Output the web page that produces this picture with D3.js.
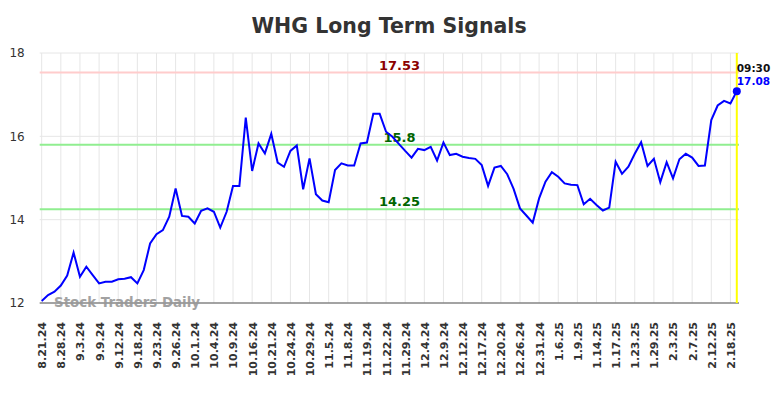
<!DOCTYPE html>
<html lang="en">
<head>
<meta charset="UTF-8">
<title>WHG Long Term Signals</title>
<script src="https://d3js.org/d3.v7.min.js"></script>
<style>
  body, html { margin: 0; padding: 0; background: #fff; }
  text { font-family: "DejaVu Sans", sans-serif; }
</style>
</head>
<body>
<div id="chart"></div>
<script>
// closing prices, one per session
const prices = [
  12.05, 12.19, 12.27, 12.42, 12.66, 13.21, 12.63, 12.87, 12.67, 12.47,
  12.51, 12.51, 12.57, 12.58, 12.62, 12.47, 12.79, 13.43, 13.65, 13.75,
  14.07, 14.75, 14.09, 14.07, 13.91, 14.21, 14.27, 14.19, 13.81, 14.19,
  14.81, 14.81, 16.45, 15.17, 15.83, 15.59, 16.06, 15.37, 15.27, 15.65,
  15.78, 14.73, 15.47, 14.61, 14.46, 14.42, 15.19, 15.35, 15.30, 15.30,
  15.83, 15.85, 16.54, 16.54, 16.11, 15.99, 15.82, 15.65, 15.49, 15.70,
  15.67, 15.75, 15.42, 15.85, 15.55, 15.58, 15.51, 15.48, 15.46, 15.31,
  14.81, 15.25, 15.29, 15.09, 14.74, 14.27, 14.10, 13.93, 14.51, 14.91,
  15.14, 15.03, 14.87, 14.84, 14.83, 14.37, 14.50, 14.35, 14.22, 14.29,
  15.39, 15.10, 15.27, 15.58, 15.86, 15.29, 15.46, 14.90, 15.38, 14.99,
  15.45, 15.58, 15.49, 15.29, 15.30, 16.39, 16.74, 16.85, 16.79, 17.08
];

// one date label every 3 sessions
const dateLabels = [
  "8.21.24", "8.28.24", "9.3.24", "9.9.24", "9.12.24", "9.18.24", "9.23.24",
  "9.26.24", "10.1.24", "10.4.24", "10.9.24", "10.16.24", "10.21.24", "10.24.24",
  "10.29.24", "11.5.24", "11.8.24", "11.19.24", "11.22.24", "11.29.24", "12.4.24",
  "12.9.24", "12.12.24", "12.17.24", "12.20.24", "12.26.24", "12.31.24", "1.6.25",
  "1.9.25", "1.14.25", "1.17.25", "1.23.25", "1.29.25", "2.3.25", "2.7.25",
  "2.12.25", "2.18.25"
];
const labelEvery = 3;

const yTicks = [12, 14, 16, 18];

const signalLevels = [17.53, 15.8, 14.25];
const signalKinds = ["resistance", "middle", "support"];

const lastTime = "09:30";

const width = 784, height = 398;
const m = { left: 41.7, right: 739, top: 53, bottom: 303 };
const step = 6.377;

const svg = d3.select("#chart").append("svg")
  .attr("width", width)
  .attr("height", height);

const x = d3.scaleLinear()
  .domain([0, (m.right - m.left) / step])
  .range([m.left, m.right]);

const y = d3.scaleLinear()
  .domain([12, 18])
  .range([m.bottom, m.top]);

const tickIdx = dateLabels.map((d, i) => i * labelEvery);

// title
svg.append("text")
  .attr("x", 389)
  .attr("y", 33)
  .attr("text-anchor", "middle")
  .style("font-size", "20.5px")
  .style("font-weight", "bold")
  .style("fill", "#333")
  .text("WHG Long Term Signals");

// grid
const grid = svg.append("g");
grid.selectAll(".vgrid")
  .data(tickIdx)
  .join("line")
  .attr("x1", d => x(d)).attr("x2", d => x(d))
  .attr("y1", m.top).attr("y2", m.bottom)
  .attr("stroke", "#e6e6e6")
  .attr("stroke-width", 1);
grid.selectAll(".hgrid")
  .data(yTicks)
  .join("line")
  .attr("x1", m.left - 2).attr("x2", m.right)
  .attr("y1", d => y(d)).attr("y2", d => y(d))
  .attr("stroke", "#e6e6e6")
  .attr("stroke-width", 1);

// y axis labels
const yAxis = svg.append("g")
  .attr("transform", `translate(${m.left},0)`)
  .call(d3.axisLeft(y).tickValues(yTicks).tickSize(0).tickPadding(17).tickFormat(d3.format("d")));
yAxis.select(".domain").remove();
yAxis.selectAll("text")
  .style("font-family", "DejaVu Sans, sans-serif")
  .style("font-size", "12px")
  .style("fill", "#333");

// x axis
const xAxis = svg.append("g")
  .attr("transform", `translate(0,${m.bottom})`)
  .call(d3.axisBottom(x).tickValues(tickIdx).tickSize(0)
    .tickFormat((d, i) => dateLabels[i]));
xAxis.select(".domain").remove();
xAxis.selectAll("text")
  .attr("transform", "rotate(-90)")
  .attr("x", -19)
  .attr("y", 0)
  .attr("dy", "0.36em")
  .style("text-anchor", "end")
  .style("font-family", "DejaVu Sans, sans-serif")
  .style("font-size", "11px")
  .style("font-weight", "bold")
  .style("fill", "#333");

svg.append("line")
  .attr("x1", m.left - 2).attr("x2", m.right)
  .attr("y1", m.bottom).attr("y2", m.bottom)
  .attr("stroke", "#555")
  .attr("stroke-width", 1.2);

// signal lines
const levelColor = { resistance: "#ffcccc", middle: "#90ee90", support: "#90ee90" };
const levelText = { resistance: "#8b0000", middle: "#006400", support: "#006400" };

signalLevels.forEach((v, i) => {
  const k = signalKinds[i];
  svg.append("line")
    .attr("x1", m.left - 2).attr("x2", m.right)
    .attr("y1", y(v)).attr("y2", y(v))
    .attr("stroke", levelColor[k])
    .attr("stroke-width", 2);
  svg.append("text")
    .attr("x", 399.5)
    .attr("y", y(v) - 3)
    .attr("text-anchor", "middle")
    .style("font-size", "13px")
    .style("font-weight", "bold")
    .style("fill", levelText[k])
    .text(v);
});

// watermark
svg.append("text")
  .attr("x", 54)
  .attr("y", 307)
  .style("font-size", "13.4px")
  .style("font-weight", "bold")
  .style("fill", "#999")
  .style("opacity", 0.9)
  .text("Stock Traders Daily");

// price line
const line = d3.line()
  .x((d, i) => x(i))
  .y(d => y(d));

svg.append("path")
  .datum(prices)
  .attr("d", line)
  .attr("fill", "none")
  .attr("stroke", "#0000ff")
  .attr("stroke-width", 2);

// last point marker
const lastI = prices.length - 1;
svg.append("line")
  .attr("x1", x(lastI)).attr("x2", x(lastI))
  .attr("y1", m.top).attr("y2", m.bottom)
  .attr("stroke", "#ffff00")
  .attr("stroke-width", 2);

svg.append("circle")
  .attr("cx", x(lastI))
  .attr("cy", y(prices[lastI]))
  .attr("r", 4)
  .attr("fill", "#0000ff");

svg.append("text")
  .attr("x", x(lastI))
  .attr("y", 72)
  .style("font-size", "10.5px")
  .style("font-weight", "bold")
  .style("fill", "#111")
  .text(lastTime);

svg.append("text")
  .attr("x", x(lastI))
  .attr("y", 85)
  .style("font-size", "10.5px")
  .style("font-weight", "bold")
  .style("fill", "#0000ff")
  .text(prices[lastI].toFixed(2));
</script>
</body>
</html>
